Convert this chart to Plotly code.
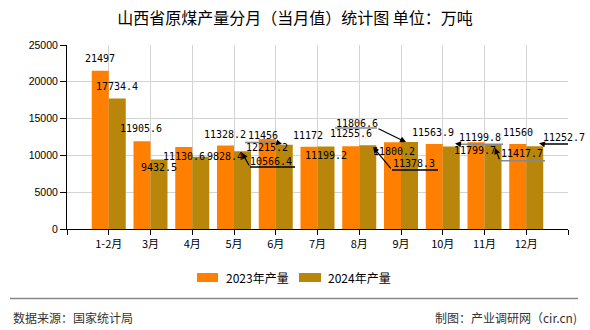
import plotly.graph_objects as go

# ---------------- data ----------------
categories = ["1-2月", "3月", "4月", "5月", "6月", "7月", "8月", "9月", "10月", "11月", "12月"]
output_2023 = [21497, 11905.6, 11130.6, 11328.2, 12215.2, 11172, 11255.6, 11800.2, 11563.9, 11799.7, 11560]
output_2024 = [17734.4, 9432.5, 9828.4, 10566.4, 11456, 11199.2, 11378.3, 11806.6, 11199.8, 11417.7, 11252.7]
series_names = ["2023年产量", "2024年产量"]
y_ticks = [0, 5000, 10000, 15000, 20000, 25000]
y_tick_labels = ["0", "5000", "10000", "15000", "20000", "25000"]
title_text = "山西省原煤产量分月（当月值）统计图 单位：万吨"
source_text = "数据来源：国家统计局"
maker_text = "制图：产业调研网（cir.cn)"

# ---------------- styles ----------------
W, H = 590, 330
ML, MR, MT, MB = 67, 22, 45, 101
PW, PH = W - ML - MR, H - MT - MB
COL_A = "#FF8000"
COL_B = "#B8860B"
BARGAP = 0.185
LABEL_FONT = dict(family="DejaVu Sans Mono", size=10, color="#000000")

# label offsets (dx px right, dy px up) from bar-top centre
off_a = [(0, 11.8), (-0.5, 12.4), (0, -9.4), (-0.5, 11.1), (-0.25, -8.4), (-0.5, 11.3),
         (0.25, 12.2), (1.5, -9.8), (-0.75, 11.4), (-1, -8.8), (0.25, 11.4)]
off_b = [(-0.75, 11.5), (0, -8.4), (24, 0.2), (28.5, -9.8), (-21.75, 9.2), (0, -8.9),
         (46, -18.7), (-52.5, 18.6), (28.25, 9.1), (29, -8.5), (29.25, 8.7)]
# leaders for series B: index -> (tip, bend, underline end, underline colour); screen px, y down
leaders_b = {
    3: ((-0.5, 1.5), (7.5, 15.8), (52.5, 15.8), "#000000"),
    4: ((-2.25, -0.7), (-7.25, -2.2), (-39.25, -2.2), "#888888"),
    6: ((5.25, 1.7), (24.25, 24.7), (70.25, 24.7), "#000000"),
    7: ((-3.5, 0), (-32.5, -14.1), (-74.5, -14.1), "#888888"),
    8: ((3.75, -3.0), (8.75, -2.4), (51.75, -2.4), "#888888"),
    9: ((2, 3), (7, 15.7), (52, 15.7), "#888888"),
    10: ((4.25, -3.0), (8.25, -2.2), (53.25, -2.2), "#000000"),
}


def px(x):
    return (x - ML) / PW


def py(y):
    return (MT + PH - y) / PH


def fmt(v):
    s = "%.1f" % v
    return s.rstrip("0").rstrip(".")


idx = list(range(len(categories)))
half = (1 - BARGAP) / 4.0

fig = go.Figure()
fig.add_trace(go.Bar(x=idx, y=output_2023, name=series_names[0], marker_color=COL_A,
                     marker_line_width=0, showlegend=False))
fig.add_trace(go.Bar(x=idx, y=output_2024, name=series_names[1], marker_color=COL_B,
                     marker_line_width=0, showlegend=False))

annotations = []
shapes = []

for series, offs, sign in ((output_2023, off_a, -1), (output_2024, off_b, 1)):
    for i, v in enumerate(series):
        bx = i + sign * half
        dx, dy = offs[i]
        annotations.append(dict(x=bx, y=v, xref="x", yref="y", text=fmt(v), showarrow=False,
                                xshift=dx, yshift=dy, xanchor="center", yanchor="middle",
                                font=LABEL_FONT))

for i, (tip, bend, end, lc) in leaders_b.items():
    bx = i + half
    v = output_2024[i]
    shapes.append(dict(type="line", xref="x", yref="y", xsizemode="pixel", ysizemode="pixel",
                       xanchor=bx, yanchor=v, x0=bend[0], x1=end[0], y0=-bend[1], y1=-end[1],
                       line=dict(color=lc, width=1.5)))
    annotations.append(dict(x=bx, y=v, xref="x", yref="y", text="", showarrow=True,
                            xshift=tip[0], yshift=-tip[1], axref="pixel", ayref="pixel",
                            ax=bend[0] - tip[0], ay=bend[1] - tip[1],
                            arrowhead=2, arrowsize=1, arrowwidth=1.2, arrowcolor="#000000",
                            standoff=0, startstandoff=0))

# legend (manual)
legend_items = [(197, 218, COL_A, 224, series_names[0]), (299, 321, COL_B, 326, series_names[1])]
for x0, x1, col, tx, name in legend_items:
    shapes.append(dict(type="rect", xref="paper", yref="paper", x0=px(x0), x1=px(x1),
                       y0=py(282), y1=py(273), fillcolor=col, line=dict(width=0)))
    annotations.append(dict(x=px(tx), y=py(277.5), xref="paper", yref="paper", text=name,
                            showarrow=False, xanchor="left", yanchor="middle",
                            font=dict(family="Noto Sans CJK SC", size=12, color="#000000")))

# footer
shapes.append(dict(type="line", xref="paper", yref="paper", x0=px(10), x1=px(578),
                   y0=py(298.5), y1=py(298.5), line=dict(color="#888888", width=1.5)))
annotations.append(dict(x=px(11), y=py(317), xref="paper", yref="paper", text=source_text,
                        showarrow=False, xanchor="left", yanchor="middle",
                        font=dict(family="Noto Sans CJK SC", size=12, color="#333333")))
annotations.append(dict(x=px(579), y=py(317), xref="paper", yref="paper", text=maker_text,
                        showarrow=False, xanchor="right", yanchor="middle",
                        font=dict(family="Noto Sans CJK SC", size=12, color="#333333")))

fig.update_layout(
    width=W, height=H,
    margin=dict(l=ML, r=MR, t=MT, b=MB, pad=0),
    paper_bgcolor="#FFFFFF", plot_bgcolor="#FFFFFF",
    barmode="group", bargap=BARGAP, bargroupgap=0,
    title=dict(text=title_text, x=0.5, xref="container", xanchor="center",
               y=1 - 18 / H, yref="container", yanchor="middle",
               font=dict(family="Noto Sans CJK SC", size=16, color="#000000")),
    xaxis=dict(range=[-1, 11], tickmode="array", tickvals=list(range(-1, 12)),
               ticktext=[""] + categories + [""], showgrid=True, gridcolor="#d4d4d4", gridwidth=1,
               ticks="outside", ticklen=5, tickcolor="#000000", showline=True, linecolor="#000000",
               linewidth=1, zeroline=False,
               tickfont=dict(family="Noto Sans CJK SC", size=11, color="#000000")),
    yaxis=dict(range=[0, 25000], tickmode="array", tickvals=y_ticks, ticktext=y_tick_labels,
               showgrid=True, gridcolor="#d4d4d4", gridwidth=1, ticks="outside", ticklen=6,
               tickcolor="#000000", showline=True, linecolor="#000000", linewidth=1,
               zeroline=False,
               tickfont=dict(family="Liberation Sans", size=10.5, color="#000000")),
    annotations=annotations,
    shapes=shapes,
    showlegend=False,
)

fig.write_html("out.html")
